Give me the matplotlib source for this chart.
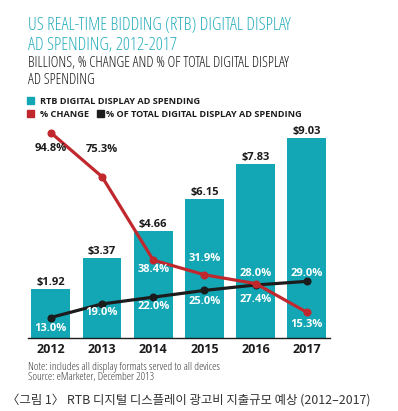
import matplotlib
matplotlib.use("Agg")
import matplotlib.pyplot as plt
from matplotlib import font_manager
from matplotlib.patches import Rectangle

# ---------------- data ----------------
years = ["2012", "2013", "2014", "2015", "2016", "2017"]
spend = [1.92, 3.37, 4.66, 6.15, 7.83, 9.03]          # billions
pct_change = [94.8, 75.3, 38.4, 31.9, 28.0, 15.3]      # %
pct_total = [13.0, 19.0, 22.0, 25.0, 27.4, 29.0]       # %

spend_labels = ["$1.92", "$3.37", "$4.66", "$6.15", "$7.83", "$9.03"]
change_labels = ["94.8%", "75.3%", "38.4%", "31.9%", "28.0%", "15.3%"]
total_labels = ["13.0%", "19.0%", "22.0%", "25.0%", "27.4%", "29.0%"]

title_lines = ["US REAL-TIME BIDDING (RTB) DIGITAL DISPLAY", "AD SPENDING, 2012-2017"]
subtitle_lines = ["BILLIONS, % CHANGE AND % OF TOTAL DIGITAL DISPLAY", "AD SPENDING"]
legend_names = ["RTB DIGITAL DISPLAY AD SPENDING", "% CHANGE", "% OF TOTAL DIGITAL DISPLAY AD SPENDING"]
note_lines = ["Note: includes all display formats served to all devices",
              "Source: eMarketer, December 2013"]
caption = "〈그림 1〉 RTB 디지털 디스플레이 광고비 지출규모 예상 (2012–2017)"

# ---------------- style ----------------
TEAL = "#13a6b5"
TITLE_TEAL = "#2aafbd"
RED = "#c1282e"
BLACK = "#1c1c1c"

W, H = 398, 411
fig = plt.figure(figsize=(W / 100, H / 100), dpi=100)
fig.patch.set_facecolor("white")
renderer = fig.canvas.get_renderer()

# choose the narrowest installed sans font
names = {f.name for f in font_manager.fontManager.ttflist}
cands = [("Liberation Sans Narrow", "normal"), ("Roboto Condensed", "normal"),
         ("DejaVu Sans", "condensed"), ("Noto Sans", "condensed"),
         ("Open Sans", "condensed"), ("Liberation Sans", "normal"),
         ("Roboto", "normal"), ("Inter", "normal"), ("Lato", "normal")]
best = None
for fam, st in cands:
    if fam not in names:
        continue
    t = fig.text(0, 0, "US REAL-TIME BIDDING 2012", fontfamily=fam, fontstretch=st,
                 fontsize=10)
    w = t.get_window_extent(renderer).width
    t.remove()
    if best is None or w < best[0]:
        best = (w, fam, st)
NARROW, STRETCH = (best[1], best[2]) if best else ("DejaVu Sans", "normal")
NK = dict(fontfamily=NARROW, fontstretch=STRETCH)


def fx(px):
    return px / W


def fy(py):
    return 1 - py / H


def fit(t, width_px):
    w = t.get_window_extent(renderer).width
    t.set_fontsize(t.get_fontsize() * width_px / w)
    return t.get_fontsize()


# ---------------- axes ----------------
ax_left, ax_right, ax_bot, ax_top = 28, 330, 337.7, 120
ax = fig.add_axes([fx(ax_left), fy(ax_bot), (ax_right - ax_left) / W, (ax_bot - ax_top) / H])
x = list(range(len(years)))
base = -0.38
ax.set_xlim(-0.445, 5.45)
ax.set_ylim(base, base + (ax_bot - ax_top) / 21.2)
ax.bar(x, [v - base for v in spend], bottom=base, width=0.76, color=TEAL, zorder=1)

for s in ["top", "left", "right"]:
    ax.spines[s].set_visible(False)
ax.spines["bottom"].set_color(BLACK)
ax.spines["bottom"].set_linewidth(1.0)
ax.set_yticks([])
ax.set_xticks(x)
ax.set_xticklabels(years, fontweight="bold", fontsize=9, color=BLACK, **NK)
ax.tick_params(axis="x", length=0, pad=4)
ax.patch.set_alpha(0)

ax2 = ax.twinx()
ax2.set_ylim(4.07, 4.07 + (ax_bot - ax_top) / 2.26)
ax2.set_yticks([])
for s in ["top", "left", "right", "bottom"]:
    ax2.spines[s].set_visible(False)
ax2.plot(x, pct_total, color=BLACK, lw=2.3, marker="o", ms=4.8, zorder=3,
         solid_capstyle="round")
ax2.plot(x, pct_change, color=RED, lw=2.3, marker="o", ms=4.8, zorder=4,
         solid_capstyle="round")

lab_kw = dict(fontweight="bold", fontsize=8, ha="center", va="center",
              textcoords="offset points", **NK)
for i, v in enumerate(spend):
    ax.annotate(spend_labels[i], (i, v), xytext=(0, 6.6 * 0.72), color=BLACK, **lab_kw)

change_off = [-16.3, 27.7, -9, 16.5, 10.3, -12]
change_col = [BLACK, BLACK, "white", "white", "white", "white"]
for i, v in enumerate(pct_change):
    ax2.annotate(change_labels[i], (i, v), xytext=(0, change_off[i] * 0.72),
                 color=change_col[i], zorder=6, **lab_kw)

total_off = [-10.5, -9, -9, -11.3, -14.3, 8.1]
for i, v in enumerate(pct_total):
    ax2.annotate(total_labels[i], (i, v), xytext=(0, total_off[i] * 0.72),
                 color="white", zorder=6, **lab_kw)

# ---------------- titles ----------------
t1 = fig.text(fx(28), fy(30), title_lines[0], color=TITLE_TEAL, fontsize=14,
              va="baseline", ha="left", **NK)
fs = fit(t1, 262)
fig.text(fx(28), fy(50), title_lines[1], color=TITLE_TEAL, fontsize=fs,
         va="baseline", ha="left", **NK)

s1 = fig.text(fx(28), fy(67), subtitle_lines[0], color=BLACK, fontsize=10,
              va="baseline", ha="left", **NK)
fs = fit(s1, 262)
fig.text(fx(28), fy(84), subtitle_lines[1], color=BLACK, fontsize=fs,
         va="baseline", ha="left", **NK)

# legend
leg_colors = [TEAL, RED, BLACK]
sq = [(27.5, 97.5), (27.5, 110), (96.7, 110)]
txt_pos = [(40, 104.5), (40, 117), (106, 117)]
lt = []
for i in range(3):
    fig.patches.append(Rectangle((fx(sq[i][0]), fy(sq[i][1] + 7)), 7 / W, 7 / H,
                                 transform=fig.transFigure, color=leg_colors[i]))
    t = fig.text(fx(txt_pos[i][0]), fy(txt_pos[i][1]), legend_names[i],
                 fontweight="bold", color=BLACK, fontsize=7,
                 va="baseline", ha="left", **NK)
    lt.append(t)
fs = fit(lt[0], 160)
for t in lt[1:]:
    t.set_fontsize(fs)

# notes
n1 = fig.text(fx(28), fy(370), note_lines[0], color="#3a3a3a", fontsize=6,
              va="baseline", ha="left", **NK)
fs = fit(n1, 195)
fig.text(fx(28), fy(379.5), note_lines[1], color="#3a3a3a", fontsize=fs,
         va="baseline", ha="left", **NK)

c = fig.text(fx(7), fy(404), caption, fontfamily=["Noto Sans CJK KR", "DejaVu Sans"],
             color="#333333", fontsize=9, va="baseline", ha="left")
fit(c, 365)

fig.savefig("out.png", dpi=100, facecolor="white")
